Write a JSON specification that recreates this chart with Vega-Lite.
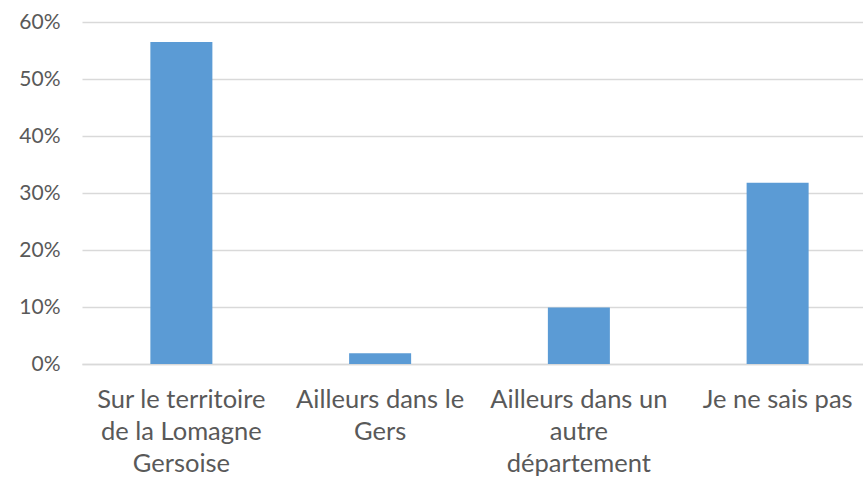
{
  "$schema": "https://vega.github.io/schema/vega-lite/v6.json",
  "width": 795,
  "height": 342,
  "autosize": {"type": "none"},
  "padding": {"left": 82, "top": 22, "right": 0, "bottom": 114},
  "background": "white",
  "config": {"view": {"stroke": null}, "font": "Lato"},
  "data": {
    "values": [
      {"categorie": "Sur le territoire de la Lomagne Gersoise", "part": 0.565},
      {"categorie": "Ailleurs dans le Gers", "part": 0.019},
      {"categorie": "Ailleurs dans un autre département", "part": 0.099},
      {"categorie": "Je ne sais pas", "part": 0.318}
    ]
  },
  "mark": {"type": "bar", "color": "#5b9bd5"},
  "encoding": {
    "x": {
      "field": "categorie",
      "type": "nominal",
      "sort": null,
      "scale": {"paddingInner": 0.688, "paddingOuter": 0.344},
      "axis": {
        "title": null,
        "labelAngle": 0,
        "labelFontSize": 25.5,
        "labelColor": "#595959",
        "labelLineHeight": 32,
        "labelPadding": 23,
        "labelBaseline": "top",
        "ticks": false,
        "domainColor": "#d9d9d9",
        "domainWidth": 1.5,
        "labelLimit": 300,
        "labelExpr": "datum.label == 'Sur le territoire de la Lomagne Gersoise' ? ['Sur le territoire', 'de la Lomagne', 'Gersoise'] : datum.label == 'Ailleurs dans le Gers' ? ['Ailleurs dans le', 'Gers'] : datum.label == 'Ailleurs dans un autre département' ? ['Ailleurs dans un', 'autre', 'département'] : datum.label"
      }
    },
    "y": {
      "field": "part",
      "type": "quantitative",
      "scale": {"domain": [0, 0.6], "nice": false},
      "axis": {
        "title": null,
        "format": ".0%",
        "values": [0, 0.1, 0.2, 0.3, 0.4, 0.5, 0.6],
        "labelFontSize": 21,
        "labelColor": "#595959",
        "labelPadding": 22,
        "ticks": false,
        "domain": false,
        "gridColor": "#d9d9d9",
        "gridWidth": 1.5
      }
    }
  }
}
